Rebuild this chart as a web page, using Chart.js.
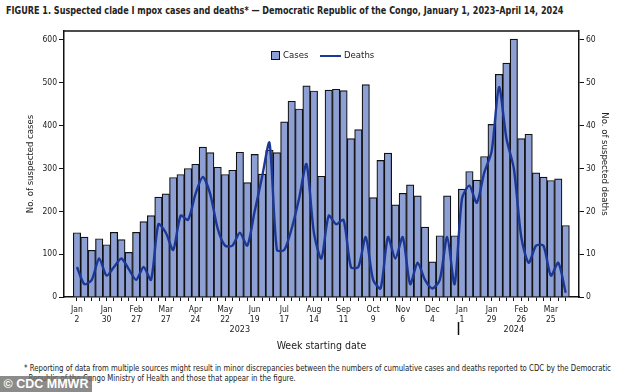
<!DOCTYPE html>
<html>
<head>
<meta charset="utf-8">
<script src="https://cdn.jsdelivr.net/npm/chart.js@4.4.1/dist/chart.umd.min.js"></script>
<style>
  body { margin: 0; background: #fff; width: 628px; height: 392px; overflow: hidden; position: relative;
         font-family: "Liberation Sans Narrow", "DejaVu Sans Condensed", sans-serif; color: #222; }
  #title { position: absolute; left: 6px; top: 4px; font-size: 10.5px; font-weight: bold; white-space: nowrap;
           transform: scaleX(0.857); transform-origin: 0 0; }
  #wrap { position: absolute; left: 0; top: 0; }
  #legend { position: absolute; left: 271px; top: 49px; font-size: 9.5px; white-space: nowrap; }
  #legend span { position: absolute; top: 0; line-height: 12px; }
  .box { position: absolute; left: 0; top: 2px; width: 7px; height: 7px; background: #8d9fd3; border: 1px solid #111; }
  .ln { position: absolute; left: 49px; top: 5.5px; width: 21px; height: 2px; background: #1c3896; }
  #note { position: absolute; left: 24px; top: 363px; font-size: 8.3px; line-height: 10px; white-space: nowrap;
          transform: scaleX(0.933); transform-origin: 0 0; }
  #wm { position: absolute; left: 0; top: 376px; width: 92px; height: 16px; background: rgba(110,110,110,0.8);
        color: #fff; font-family: "Liberation Sans", Arial, sans-serif; font-weight: bold; font-size: 12.5px;
        line-height: 16px; text-align: center; }
</style>
</head>
<body>
<div id="title">FIGURE 1. Suspected clade I mpox cases and deaths* — Democratic Republic of the Congo, January 1, 2023–April 14, 2024</div>
<div id="wrap"><canvas id="myChart" width="628" height="360"></canvas></div>
<div id="legend">
  <div class="box"></div><span style="left:12px">Cases</span>
  <div class="ln"></div><span style="left:73px">Deaths</span>
</div>
<div id="note">* Reporting of data from multiple sources might result in minor discrepancies between the numbers of cumulative cases and deaths reported to CDC by the Democratic<br>&nbsp;&nbsp;Republic of the Congo Ministry of Health and those that appear in the figure.</div>
<div id="wm">© CDC MMWR</div>

<script>
// week starting dates, Jan 2 2023 - Apr 8 2024
const weeks = [
  'Jan 2','Jan 9','Jan 16','Jan 23','Jan 30','Feb 6','Feb 13','Feb 20','Feb 27',
  'Mar 6','Mar 13','Mar 20','Mar 27','Apr 3','Apr 10','Apr 17','Apr 24',
  'May 1','May 8','May 15','May 22','May 29','Jun 5','Jun 12','Jun 19','Jun 26',
  'Jul 3','Jul 10','Jul 17','Jul 24','Jul 31','Aug 7','Aug 14','Aug 21','Aug 28',
  'Sep 4','Sep 11','Sep 18','Sep 25','Oct 2','Oct 9','Oct 16','Oct 23','Oct 30',
  'Nov 6','Nov 13','Nov 20','Nov 27','Dec 4','Dec 11','Dec 18','Dec 25',
  'Jan 1','Jan 8','Jan 15','Jan 22','Jan 29','Feb 5','Feb 12','Feb 19','Feb 26',
  'Mar 4','Mar 11','Mar 18','Mar 25','Apr 1','Apr 8'
];

const cases = [
  150, 140, 109, 136, 122, 151, 134, 104, 151, 176, 190, 233, 241, 279, 286, 300, 310,
  350, 337, 303, 286, 296, 338, 267, 333, 287, 343, 337, 409, 457, 439, 493, 481, 282,
  483, 485, 482, 370, 391, 496, 232, 319, 336, 215, 242, 262, 236, 163, 82, 143, 236, 143,
  252, 293, 273, 328, 403, 520, 546, 602, 370, 380, 290, 280, 272, 276, 167
];

const deaths = [
  7, 3, 4, 9, 5, 7, 9, 6.5, 4, 7, 4, 17, 15, 11, 19, 18, 24,
  28, 24, 16, 12, 12, 15, 12, 20, 28, 36, 11, 11, 16, 23, 31, 15, 9,
  19, 17, 18, 7, 7, 14, 4, 2, 14, 9, 14, 3, 8, 4, 2, 4, 14, 3,
  23, 26, 22, 29, 34, 49, 37, 30, 14, 8, 12, 12, 5, 8, 1
];

const caseTicks = [0, 100, 200, 300, 400, 500, 600];
const deathTicks = [0, 10, 20, 30, 40, 50, 60];

const years = ['2023', '2024'];
const yearPos = [22, 59];   // week index under which each year label sits
const yearBreak = 51.5;     // between Dec 25 and Jan 1

const font = '"Liberation Sans Narrow", "DejaVu Sans Condensed", sans-serif';
const ink = '#111';

// top edge of the frame, year labels and the year separator
const extras = {
  id: 'extras',
  afterDraw(chart) {
    const ctx = chart.ctx, a = chart.chartArea, x = chart.scales.x;
    ctx.save();
    ctx.strokeStyle = ink;
    ctx.lineWidth = 1.5;
    ctx.beginPath();
    ctx.moveTo(a.left, a.top);
    ctx.lineTo(a.right, a.top);
    ctx.stroke();

    const bx = Math.round(x.getPixelForValue(yearBreak)) + 0.5;
    ctx.beginPath();
    ctx.moveTo(bx, 322);
    ctx.lineTo(bx, 335);
    ctx.stroke();

    ctx.fillStyle = '#222';
    ctx.font = '9px ' + font;
    ctx.textAlign = 'center';
    ctx.textBaseline = 'middle';
    years.forEach((y, i) => ctx.fillText(y, x.getPixelForValue(yearPos[i]), 330));
    ctx.restore();
  }
};

new Chart(document.getElementById('myChart'), {
  type: 'bar',
  data: {
    datasets: [
      {
        type: 'line',
        label: 'Deaths',
        data: deaths.map((v, i) => ({ x: i, y: v })),
        yAxisID: 'y1',
        borderColor: '#1c3896',
        borderWidth: 2.4,
        pointRadius: 0,
        tension: 0.25,
        order: 0
      },
      {
        type: 'bar',
        label: 'Cases',
        data: cases.map((v, i) => ({ x: i, y: v })),
        yAxisID: 'y',
        backgroundColor: '#8d9fd3',
        borderColor: ink,
        borderWidth: 1.2,
        barPercentage: 1,
        categoryPercentage: 1,
        order: 1
      }
    ]
  },
  options: {
    responsive: false,
    animation: false,
    devicePixelRatio: 1,
    layout: { padding: { top: 31, left: 0, right: 0, bottom: 0 } },
    plugins: { legend: { display: false }, tooltip: { enabled: false } },
    scales: {
      x: {
        type: 'linear',
        min: -1.75,
        max: 67.8,
        offset: false,
        afterBuildTicks: s => { s.ticks = weeks.map((_, i) => ({ value: i })); },
        afterFit: s => { s.height = 63; },
        grid: { display: true, offset: false, drawOnChartArea: false, drawTicks: true, tickLength: 4, color: ink },
        border: { display: true, color: ink, width: 1.5 },
        ticks: {
          autoSkip: false, maxRotation: 0, minRotation: 0, padding: 4, color: '#222',
          font: { family: font, size: 8.5, lineHeight: 1.15 },
          callback: v => (v % 4 === 0 ? weeks[v].split(' ') : '')
        },
        title: {
          display: true, text: 'Week starting date', color: '#222',
          font: { family: font, size: 10.5, lineHeight: 1.2 },
          padding: { top: 0, bottom: 7 }
        }
      },
      y: {
        position: 'left',
        min: 0, max: 621,
        afterBuildTicks: s => { s.ticks = caseTicks.map(v => ({ value: v })); },
        afterFit: s => { s.width = 64; },
        grid: { display: true, drawOnChartArea: false, drawTicks: true, tickLength: 5, color: ink },
        border: { display: true, color: ink, width: 1.5 },
        ticks: { padding: 2, color: '#222', font: { family: font, size: 8.5 } },
        title: {
          display: true, text: 'No. of suspected cases', color: '#222',
          font: { family: font, size: 9.5, lineHeight: 1.2 },
          padding: { top: 25, bottom: 0 }
        }
      },
      y1: {
        position: 'right',
        min: 0, max: 62.1,
        afterBuildTicks: s => { s.ticks = deathTicks.map(v => ({ value: v })); },
        afterFit: s => { s.width = 49; },
        grid: { display: true, drawOnChartArea: false, drawTicks: true, tickLength: 5, color: ink },
        border: { display: true, color: ink, width: 1.5 },
        ticks: { padding: 2, color: '#222', font: { family: font, size: 8.5 } },
        title: {
          display: true, text: 'No. of suspected deaths', color: '#222',
          font: { family: font, size: 9.5, lineHeight: 1.2 },
          padding: { top: 18, bottom: 0 }
        }
      }
    }
  },
  plugins: [extras]
});
</script>
</body>
</html>
